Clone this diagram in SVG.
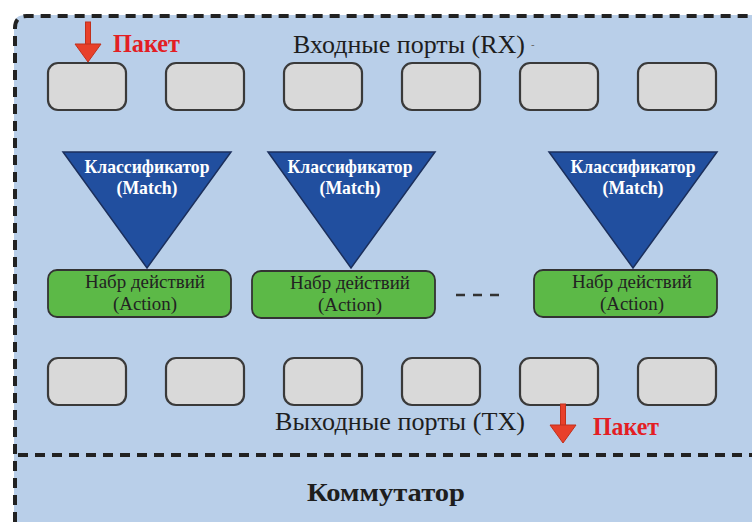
<svg xmlns="http://www.w3.org/2000/svg" width="752" height="522" viewBox="0 0 752 522">
<style>
.port{fill:#d9d9d9;stroke:#3a3a3a;stroke-width:2.2}
.cls{fill:#214f9f;stroke:#1b2f5c;stroke-width:1.5}
.act{fill:#5cb947;stroke:#333;stroke-width:1.8}
.dash{fill:none;stroke:#222;stroke-width:4;stroke-dasharray:10 7}
.wt{font-family:"Liberation Serif",serif;font-weight:bold;font-size:19px;fill:#fff;text-anchor:middle}
.gt{font-family:"Liberation Serif",serif;font-size:19px;fill:#222;text-anchor:middle}
.lbl{font-family:"Liberation Serif",serif;font-size:25px;fill:#1e1e1e}
.red{font-family:"Liberation Serif",serif;font-weight:bold;font-size:26px;fill:#e31e24}
.arr{fill:#e8402a;stroke:#c0301c;stroke-width:1}
</style>
<rect x="0" y="0" width="752" height="522" fill="#fff"/>
<path d="M14,522 V26 Q14,15 25,15 H752 V522 Z" fill="#b9cfe9"/>
<g id="border">
<path class="dash" d="M15,522 V28 Q15,16 27,16 H752"/>
<path class="dash" d="M18,455 H752" stroke-width="3.5"/>
</g>
<g id="input-ports">
<rect class="port" x="48" y="63" width="78" height="47" rx="10"/>
<rect class="port" x="166" y="63" width="78" height="47" rx="10"/>
<rect class="port" x="284" y="63" width="78" height="47" rx="10"/>
<rect class="port" x="402" y="63" width="78" height="47" rx="10"/>
<rect class="port" x="520" y="63" width="78" height="47" rx="10"/>
<rect class="port" x="638" y="63" width="78" height="47" rx="10"/>
<text class="lbl" x="293" y="53" textLength="232" lengthAdjust="spacingAndGlyphs">Входные порты (RX)</text>
<text x="531" y="48" font-family="Liberation Sans,sans-serif" font-size="11" fill="#666">-</text>
</g>
<g id="output-ports">
<rect class="port" x="48" y="358" width="78" height="47" rx="10"/>
<rect class="port" x="166" y="358" width="78" height="47" rx="10"/>
<rect class="port" x="284" y="358" width="78" height="47" rx="10"/>
<rect class="port" x="402" y="358" width="78" height="47" rx="10"/>
<rect class="port" x="520" y="358" width="78" height="47" rx="10"/>
<rect class="port" x="638" y="358" width="78" height="47" rx="10"/>
<text class="lbl" x="275" y="430" textLength="250" lengthAdjust="spacingAndGlyphs">Выходные порты (TX)</text>
</g>
<g id="classifier1">
<polygon class="cls" points="63,152 231,152 147,268"/>
<text class="wt" x="147" y="173" textLength="125" lengthAdjust="spacingAndGlyphs">Классификатор</text>
<text class="wt" x="147" y="194" textLength="61" lengthAdjust="spacingAndGlyphs">(Match)</text>
</g>
<g id="classifier2">
<polygon class="cls" points="268,152 435,152 351,268"/>
<text class="wt" x="350" y="173" textLength="125" lengthAdjust="spacingAndGlyphs">Классификатор</text>
<text class="wt" x="350" y="194" textLength="61" lengthAdjust="spacingAndGlyphs">(Match)</text>
</g>
<g id="classifier3">
<polygon class="cls" points="549,152 717,152 633,268"/>
<text class="wt" x="633" y="173" textLength="125" lengthAdjust="spacingAndGlyphs">Классификатор</text>
<text class="wt" x="633" y="194" textLength="61" lengthAdjust="spacingAndGlyphs">(Match)</text>
</g>
<g id="action1">
<rect class="act" x="48" y="270" width="183" height="47" rx="9"/>
<text class="gt" x="145" y="288" textLength="120" lengthAdjust="spacingAndGlyphs">Набр действий</text>
<text class="gt" x="145" y="310" textLength="64" lengthAdjust="spacingAndGlyphs">(Action)</text>
</g>
<g id="action2">
<rect class="act" x="252" y="271" width="183" height="47" rx="9"/>
<text class="gt" x="350" y="289" textLength="120" lengthAdjust="spacingAndGlyphs">Набр действий</text>
<text class="gt" x="350" y="311" textLength="64" lengthAdjust="spacingAndGlyphs">(Action)</text>
</g>
<g id="action3">
<rect class="act" x="534" y="270" width="183" height="47" rx="9"/>
<text class="gt" x="632" y="288" textLength="120" lengthAdjust="spacingAndGlyphs">Набр действий</text>
<text class="gt" x="632" y="310" textLength="64" lengthAdjust="spacingAndGlyphs">(Action)</text>
</g>
<g id="connectors">
<path d="M456,295 H505" stroke="#333" stroke-width="2.5" stroke-dasharray="9 8" fill="none"/>
<g id="packet-in">
<rect class="arr" x="85.5" y="22" width="5" height="24"/>
<polygon class="arr" points="75,44 101,44 88,62"/>
</g>
<g id="packet-out">
<rect class="arr" x="560.5" y="404" width="5" height="22"/>
<polygon class="arr" points="550,425 576,425 563,443"/>
</g>
</g>
<text class="red" x="113" y="52" textLength="67" lengthAdjust="spacingAndGlyphs">Пакет</text>
<text class="red" x="593" y="435" textLength="66" lengthAdjust="spacingAndGlyphs">Пакет</text>
<text x="307" y="501" font-family="Liberation Serif,serif" font-weight="bold" font-size="25" fill="#1e1e1e" textLength="158" lengthAdjust="spacingAndGlyphs">Коммутатор</text>
</svg>
